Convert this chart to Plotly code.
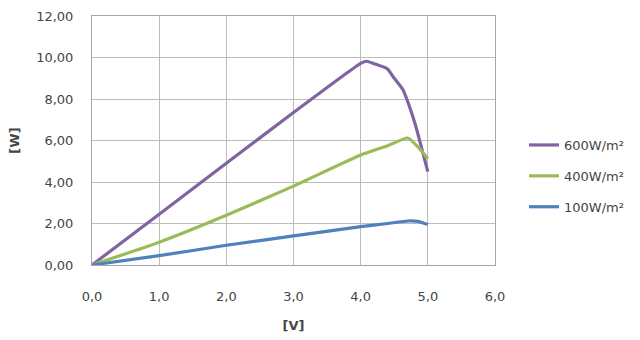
import plotly.graph_objects as go

# Data
v_600 = [0.0, 1.0, 2.0, 3.0, 4.0, 4.09, 4.2, 4.4, 4.5, 4.63, 4.72, 4.82, 4.91, 5.0]
p_600 = [0.0, 2.45, 4.9, 7.35, 9.72, 9.82, 9.7, 9.45, 9.0, 8.45, 7.7, 6.7, 5.6, 4.5]

v_400 = [0.0, 1.0, 2.0, 3.0, 4.0, 4.4, 4.7, 4.85, 5.0]
p_400 = [0.0, 1.1, 2.4, 3.8, 5.3, 5.75, 6.12, 5.7, 5.12]

v_100 = [0.0, 1.0, 2.0, 3.0, 4.0, 4.4, 4.7, 4.85, 5.0]
p_100 = [0.0, 0.45, 0.95, 1.4, 1.85, 2.0, 2.12, 2.1, 1.95]

series_names = ["600W/m²", "400W/m²", "100W/m²"]
series_colors = ["#8064A2", "#9BBB59", "#4F81BD"]

x_ticks = [0, 1, 2, 3, 4, 5, 6]
y_ticks = [0, 2, 4, 6, 8, 10, 12]

fig = go.Figure()
for name, color, xs, ys in zip(series_names, series_colors,
                               [v_600, v_400, v_100], [p_600, p_400, p_100]):
    fig.add_trace(go.Scatter(x=xs, y=ys, mode="lines", name=name,
                             legendgroup=name,
                             line=dict(color=color, width=3.2, shape="spline", smoothing=0.5)))

font_family = "'DejaVu Sans', sans-serif"
text_color = "#454545"
fig.update_layout(
    width=640, height=340,
    margin=dict(l=92, r=145, t=16, b=75, autoexpand=False),
    paper_bgcolor="white", plot_bgcolor="white",
    separators=",.",
    font=dict(family=font_family, size=13, color=text_color),
    showlegend=True,
    legend=dict(x=(529 - 92 - 5) / 403, y=(265 - 130) / 249, xanchor="left", yanchor="top",
                font=dict(size=13, color=text_color),
                tracegroupgap=11, itemwidth=30,
                bgcolor="rgba(0,0,0,0)"),
    xaxis=dict(range=[0, 6], tickvals=x_ticks, tickformat=".1f",
               showgrid=True, gridcolor="#bcbcbc", gridwidth=1,
               showline=True, linecolor="#a6a6a6", linewidth=1, mirror=True,
               zeroline=False, ticks="", ticklabelstandoff=19,
               title=dict(text="<b>[V]</b>", standoff=18,
                          font=dict(size=13, color=text_color))),
    yaxis=dict(range=[0, 12], tickvals=y_ticks, tickformat=".2f",
               showgrid=True, gridcolor="#bcbcbc", gridwidth=1,
               showline=True, linecolor="#a6a6a6", linewidth=1, mirror=True,
               zeroline=False, ticks="", ticklabelstandoff=15,
               title=dict(text="<b>[W]</b>", standoff=13,
                          font=dict(size=13, color=text_color))),
)

fig.write_html("out.html")
